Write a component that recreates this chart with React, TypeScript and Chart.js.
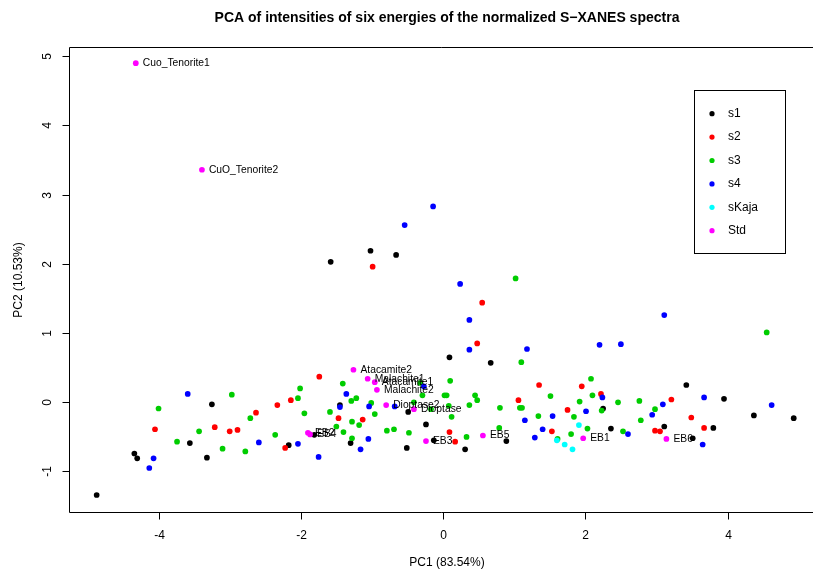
import React, { useEffect, useRef } from "react";
import { Chart, registerables } from "chart.js";

Chart.register(...registerables);

const FONT = '"Liberation Sans", Arial, Helvetica, sans-serif';

const TITLE = "PCA of intensities of six energies of the normalized S\u2212XANES spectra";
const X_TITLE = "PC1 (83.54%)";
const Y_TITLE = "PC2 (10.53%)";

const X_TICKS = [-4, -2, 0, 2, 4];
const Y_TICKS = [-1, 0, 1, 2, 3, 4, 5];
const X_RANGE = [-5.259, 5.161];
const Y_RANGE = [-1.6, 5.134];

const SERIES_NAMES = ["s1", "s2", "s3", "s4", "sKaja", "Std"];
const SERIES_COLORS = ["#000000", "#FF0000", "#00CD00", "#0000FF", "#00FFFF", "#FF00FF"];

const s1: [number, number][] = [
  [-3.25, -0.03], [-3.56, -0.59], [-4.34, -0.74], [-4.3, -0.81], [-3.32, -0.8], [-4.87, -1.34],
  [-1.45, -0.04], [-0.49, -0.14], [-0.24, -0.32], [-1.81, -0.47], [-1.3, -0.59], [-0.51, -0.66],
  [-0.13, -0.55], [-2.17, -0.62], [0.09, 0.65], [0.67, 0.57], [2.25, -0.09], [2.36, -0.38],
  [0.89, -0.56], [0.31, -0.68], [3.42, 0.25], [3.95, 0.05], [4.37, -0.19], [4.93, -0.23],
  [3.11, -0.35], [3.8, -0.37], [3.51, -0.52], [-1.02, 2.19], [-0.66, 2.13], [-1.58, 2.03],
];

const s2: [number, number][] = [
  [-2.63, -0.15], [-4.05, -0.39], [-3.21, -0.36], [-3.0, -0.42], [-2.89, -0.4], [-1.74, 0.37],
  [-2.14, 0.03], [-2.33, -0.04], [-1.47, -0.23], [-1.13, -0.25], [-2.22, -0.66], [0.48, 0.85],
  [1.35, 0.25], [1.95, 0.23], [2.22, 0.12], [1.06, 0.03], [1.75, -0.11], [1.53, -0.42],
  [0.09, -0.43], [0.17, -0.57], [3.21, 0.04], [3.49, -0.22], [3.67, -0.37], [2.98, -0.41],
  [3.05, -0.42], [-0.99, 1.96], [0.55, 1.44],
];

const s3: [number, number][] = [
  [-2.97, 0.11], [-4.0, -0.09], [-2.71, -0.23], [-3.43, -0.42], [-3.74, -0.57], [-3.1, -0.67],
  [-2.78, -0.71], [-1.41, 0.27], [-0.32, 0.28], [-2.01, 0.2], [-0.29, 0.1], [-2.04, 0.06],
  [-1.29, 0.02], [-1.22, 0.06], [-1.01, -0.01], [-0.17, -0.1], [-1.95, -0.16], [-1.59, -0.14],
  [-0.96, -0.17], [-1.28, -0.28], [-1.18, -0.33], [-1.5, -0.35], [-1.4, -0.43], [-0.79, -0.41],
  [-0.69, -0.39], [-0.48, -0.44], [-2.36, -0.47], [-1.28, -0.52], [1.1, 0.58], [0.1, 0.31],
  [2.08, 0.34], [0.02, 0.1], [0.05, 0.1], [0.45, 0.1], [0.48, 0.03], [1.51, 0.09],
  [2.1, 0.1], [1.92, 0.01], [2.46, 0.0], [0.08, -0.05], [0.37, -0.04], [0.8, -0.08],
  [1.08, -0.08], [1.11, -0.08], [2.23, -0.12], [0.12, -0.21], [1.34, -0.2], [1.84, -0.21],
  [2.03, -0.38], [0.79, -0.37], [1.8, -0.46], [0.33, -0.5], [1.61, -0.53], [2.76, 0.02],
  [2.98, -0.1], [2.78, -0.26], [2.53, -0.42], [4.55, 1.01], [1.02, 1.79], [-0.41, 0.0],
];

const s4: [number, number][] = [
  [-3.59, 0.12], [-2.59, -0.58], [-4.07, -0.81], [-4.13, -0.95], [-0.27, 0.23], [-1.36, 0.12],
  [-1.45, -0.07], [-0.68, -0.06], [-1.04, -0.06], [-2.04, -0.6], [-1.05, -0.53], [-1.16, -0.68],
  [-1.75, -0.79], [0.37, 0.76], [1.18, 0.77], [2.2, 0.83], [2.24, 0.07], [2.01, -0.13],
  [1.54, -0.2], [1.15, -0.26], [1.4, -0.39], [1.29, -0.51], [3.11, 1.26], [2.5, 0.84],
  [3.67, 0.07], [3.09, -0.03], [4.62, -0.04], [2.94, -0.18], [2.6, -0.46], [3.65, -0.61],
  [-0.14, 2.83], [-0.54, 2.56], [0.24, 1.71], [0.37, 1.19],
];

const sKaja: [number, number][] = [
  [1.91, -0.33], [1.6, -0.55], [1.71, -0.61], [1.82, -0.68],
];

const std: [number, number][] = [
  [-4.32, 4.9], [-3.39, 3.36], [-1.26, 0.47], [-1.06, 0.34], [-0.96, 0.29], [-0.93, 0.18],
  [-0.8, -0.04], [-0.41, -0.1], [-1.9, -0.44], [-1.87, -0.465], [-0.24, -0.56], [0.56, -0.48],
  [1.97, -0.52], [3.14, -0.53],
];

const STD_LABELS = [
  "Cuo_Tenorite1", "CuO_Tenorite2", "Atacamite2", "Malachite1", "Atacamite1", "Malachite2",
  "Dioptase2", "Dioptase", "EB2", "EB4", "EB3", "EB5", "EB1", "EB6",
];

const ALL_SERIES = [s1, s2, s3, s4, sKaja, std];

const decorPlugin = {
  id: "rdecor",
  afterDraw(chart: any) {
    const { ctx, chartArea: a, scales } = chart;
    const xs = scales.x;
    const ys = scales.y;
    ctx.save();
    ctx.strokeStyle = "#000";
    ctx.fillStyle = "#000";
    ctx.lineWidth = 1;

    const L = Math.round(a.left) + 0.5;
    const T = Math.round(a.top) + 0.5;
    const B = Math.round(a.bottom) - 0.5;

    // box (right side lies outside the canvas)
    ctx.beginPath();
    ctx.moveTo(a.right + 5, T);
    ctx.lineTo(L, T);
    ctx.lineTo(L, B);
    ctx.lineTo(a.right + 5, B);
    ctx.stroke();

    // x ticks
    ctx.font = `12px ${FONT}`;
    ctx.textAlign = "center";
    ctx.textBaseline = "middle";
    X_TICKS.forEach((v) => {
      const px = Math.round(xs.getPixelForValue(v)) + 0.5;
      ctx.beginPath();
      ctx.moveTo(px, B);
      ctx.lineTo(px, B + 7);
      ctx.stroke();
      ctx.fillText(String(v), px, B + 23.5);
    });

    // y ticks (labels rotated as in R)
    Y_TICKS.forEach((v) => {
      const py = Math.round(ys.getPixelForValue(v)) + 0.5;
      ctx.beginPath();
      ctx.moveTo(L, py);
      ctx.lineTo(L - 7, py);
      ctx.stroke();
      ctx.save();
      ctx.translate(47.5, py);
      ctx.rotate(-Math.PI / 2);
      ctx.fillText(String(v), 0, 0);
      ctx.restore();
    });

    // axis titles
    ctx.fillText(X_TITLE, 447, 563);
    ctx.save();
    ctx.translate(19, 280);
    ctx.rotate(-Math.PI / 2);
    ctx.fillText(Y_TITLE, 0, 0);
    ctx.restore();

    // main title
    ctx.font = `bold 14px ${FONT}`;
    ctx.fillText(TITLE, 447, 18);

    // point labels for standards
    ctx.font = `10.3px ${FONT}`;
    ctx.textAlign = "left";
    std.forEach((p, i) => {
      const px = xs.getPixelForValue(p[0]);
      const py = ys.getPixelForValue(p[1]);
      ctx.fillText(STD_LABELS[i], px + 7, py);
    });

    // legend
    ctx.strokeRect(694.5, 90.5, 91, 163);
    ctx.font = `12px ${FONT}`;
    SERIES_NAMES.forEach((name, i) => {
      const ly = 113.7 + i * 23.4;
      ctx.beginPath();
      ctx.fillStyle = SERIES_COLORS[i];
      ctx.arc(712, ly, 2.6, 0, Math.PI * 2);
      ctx.fill();
      ctx.fillStyle = "#000";
      ctx.fillText(name, 728, ly);
    });

    ctx.restore();
  },
};

export default function App() {
  const ref = useRef<HTMLCanvasElement | null>(null);

  useEffect(() => {
    document.body.style.margin = "0";
    const canvas = ref.current;
    if (!canvas) return;
    const chart = new Chart(canvas, {
      type: "scatter",
      data: {
        datasets: ALL_SERIES.map((pts, i) => ({
          label: SERIES_NAMES[i],
          data: pts.map(([x, y]) => ({ x, y })),
          backgroundColor: SERIES_COLORS[i],
          borderWidth: 0,
          pointRadius: 2.85,
          pointHoverRadius: 2.85,
          order: ALL_SERIES.length - 1 - i,
        })),
      },
      options: {
        animation: false,
        responsive: false,
        devicePixelRatio: 1,
        layout: { padding: { left: 69, top: 47, right: 0, bottom: 59 } },
        scales: {
          x: { type: "linear", display: false, min: X_RANGE[0], max: X_RANGE[1] },
          y: { type: "linear", display: false, min: Y_RANGE[0], max: Y_RANGE[1] },
        },
        plugins: {
          legend: { display: false },
          tooltip: { enabled: false },
          title: { display: false },
        },
      },
      plugins: [decorPlugin],
    });
    return () => chart.destroy();
  }, []);

  return (
    <canvas
      ref={ref}
      width={813}
      height={572}
      style={{ display: "block", width: 813, height: 572, background: "#fff" }}
    />
  );
}
